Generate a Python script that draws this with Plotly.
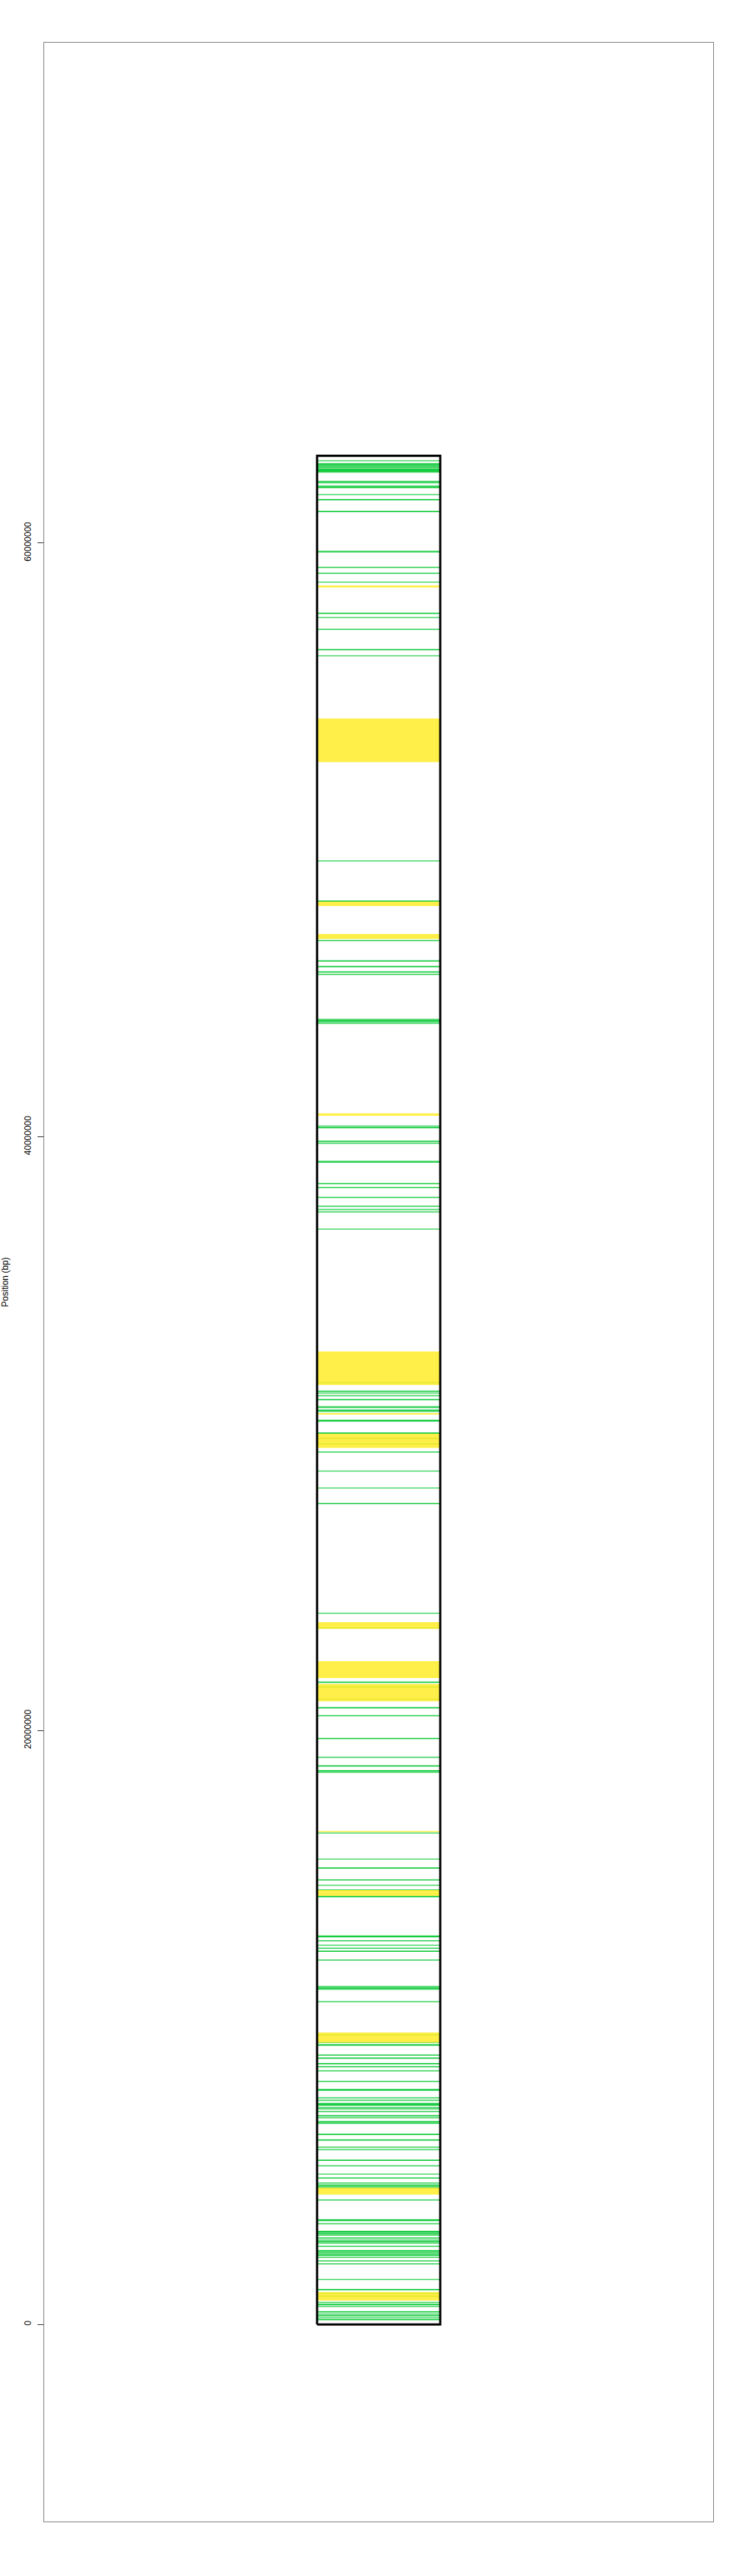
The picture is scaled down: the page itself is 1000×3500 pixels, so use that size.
import plotly.graph_objects as go

# Chromosome length (bp)
chrom_length = 62.94e6

# Tick labels on the position axis
tick_values = [0, 20000000, 40000000, 60000000]
tick_labels = ["0", "20000000", "40000000", "60000000"]

# Yellow regions (start, end) in Mb
region_starts = [58.50, 52.62, 47.77, 46.66, 40.71, 31.64, 30.64, 29.52, 23.42,
                 21.77, 20.99, 16.58, 14.43, 9.49, 4.37, 0.80]
region_ends = [58.57, 54.09, 47.92, 46.83, 40.79, 32.77, 30.69, 30.00, 23.65,
               22.34, 21.57, 16.62, 14.63, 9.83, 4.61, 1.09]

# Marker positions (Mb), strong signal
strong_markers = [62.67, 62.63, 62.59, 62.54, 62.49, 62.46, 62.44, 62.41, 62.07,
                  61.91, 61.87, 61.46, 61.06, 57.63, 56.41, 47.94, 45.92, 45.73,
                  45.55, 43.91, 40.31, 39.85, 39.17, 38.42, 38.29, 31.43, 31.15,
                  30.79, 30.45, 30.02, 27.65, 21.63, 20.77, 19.73, 18.81, 18.65,
                  15.37, 14.97, 14.41, 13.08, 13.06, 12.57, 11.33, 9.07, 8.97,
                  8.78, 8.68, 7.91, 7.89, 7.44, 7.41, 7.39, 7.26, 7.03, 6.83,
                  6.78, 6.40, 6.21, 5.53, 4.93, 4.69, 3.52, 3.50, 3.13, 3.07,
                  3.01, 2.91, 2.79, 2.48, 2.33, 1.17, 0.67, 0.42, 0.29, 0.16]

# Marker positions (Mb), weak signal
weak_markers = [62.77, 62.39, 62.03, 61.63, 59.72, 59.70, 59.18, 58.98, 58.68,
                57.49, 57.09, 56.20, 49.29, 46.61, 45.47, 43.95, 43.87, 43.82,
                40.36, 39.78, 39.14, 37.96, 37.66, 37.55, 37.47, 36.89, 31.72,
                31.37, 31.28, 30.91, 30.88, 30.75, 30.42, 29.84, 29.66, 29.38,
                28.74, 28.17, 23.95, 23.46, 21.47, 21.05, 20.50, 19.10, 18.60,
                16.55, 15.67, 14.79, 14.63, 12.92, 12.77, 12.67, 12.27, 11.38,
                11.29, 10.87, 9.75, 9.50, 9.42, 9.40, 8.54, 8.18, 7.63, 7.55,
                7.31, 7.17, 6.96, 5.97, 5.89, 5.34, 5.06, 4.76, 4.64, 4.60,
                4.19, 3.39, 3.11, 2.84, 2.74, 2.63, 2.43, 2.38, 2.26, 2.14,
                2.04, 1.51, 1.05, 0.95, 0.74, 0.61, 0.35, 0.22]


def line_segments(positions):
    xs, ys = [], []
    for p in positions:
        v = p * 1e6
        xs += [0, 1, None]
        ys += [v, v, None]
    return xs, ys


def rect_polys(starts, ends):
    xs, ys = [], []
    for s, e in zip(starts, ends):
        s, e = s * 1e6, e * 1e6
        xs += [0, 1, 1, 0, 0, None]
        ys += [s, s, e, e, s, None]
    return xs, ys


fig = go.Figure()

wx, wy = line_segments(weak_markers)
fig.add_trace(go.Scatter(x=wx, y=wy, mode="lines", hoverinfo="skip",
                         line=dict(color="rgba(28,205,68,0.8)", width=1.7)))
sx, sy = line_segments(strong_markers)
fig.add_trace(go.Scatter(x=sx, y=sy, mode="lines", hoverinfo="skip",
                         line=dict(color="rgba(24,204,64,1)", width=1.7)))

rx, ry = rect_polys(region_starts, region_ends)
fig.add_trace(go.Scatter(x=rx, y=ry, mode="lines", fill="toself", hoverinfo="skip",
                         fillcolor="rgba(255,236,40,0.85)",
                         line=dict(width=0, color="rgba(0,0,0,0)")))

# chromosome outline
fig.add_trace(go.Scatter(x=[0, 1, 1, 0, 0], y=[0, 0, chrom_length, chrom_length, 0],
                         mode="lines", hoverinfo="skip",
                         line=dict(color="black", width=3)))

fig.update_layout(
    width=1000, height=3500,
    margin=dict(l=60, r=31, t=58, b=74, autoexpand=False),
    paper_bgcolor="white", plot_bgcolor="white",
    showlegend=False,
    font=dict(family="Liberation Sans, Arial", size=12, color="black"),
)
fig.update_xaxes(range=[-2.216, 3.216], showgrid=False, zeroline=False,
                 showticklabels=False, ticks="", showline=True, mirror=True,
                 linecolor="#808080", linewidth=1, automargin=False)
fig.update_yaxes(range=[-6.64e6, 76.85e6], showgrid=False, zeroline=False,
                 tickvals=tick_values, ticktext=tick_labels, tickangle=-90,
                 ticks="outside", ticklen=8, tickcolor="#333", tickwidth=1,
                 ticklabelstandoff=4, automargin=False,
                 showline=True, mirror=True, linecolor="#808080", linewidth=1,
                 title=dict(text="Position (bp)", font=dict(size=12), standoff=21))

fig.write_html("out.html", config={"displayModeBar": False},
               post_script="document.body.style.margin='0px';document.body.style.overflow='hidden';")
